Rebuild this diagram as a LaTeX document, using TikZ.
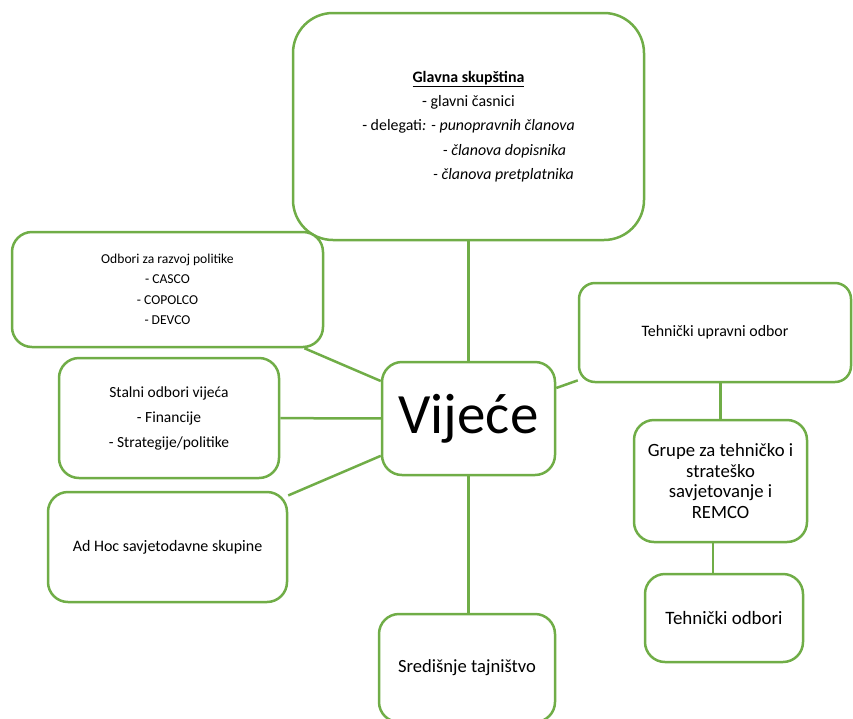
\documentclass[tikz,border=0pt]{standalone}
\usepackage{fontspec}
\setmainfont{Carlito}
\usepackage{tikz}
\usetikzlibrary{positioning}
\definecolor{zelena}{HTML}{70AD47}

\begin{document}
\begin{tikzpicture}[x=1pt,y=-1pt,
	box/.style={draw=zelena, line width=2.5pt, rounded corners=20pt, fill=white, align=center, inner sep=0pt},
	veza/.style={draw=zelena, line width=2.5pt}]
	\useasboundingbox (0,0) rectangle (853,718);
	% tijela
	\node[box, minimum width=351pt, minimum height=227pt, rounded corners=40pt, font=\fontsize{15.9}{24.2}\selectfont] (skupstina) at (468.5,126.5) {\textbf{\underline{Glavna skupština}}\\ - glavni časnici\\ - delegati\textit{: - punopravnih članova}\\ \hspace*{72pt}\textit{- članova dopisnika}\\ \hspace*{70pt}\textit{- članova pretplatnika}};
	\node[box, minimum width=311pt, minimum height=115pt, font=\fontsize{13.6}{20.5}\selectfont] (razvoj) at (167.5,289.5) {Odbori za razvoj politike\\ - CASCO\\ - COPOLCO\\ - DEVCO};
	\node[box, minimum width=220pt, minimum height=120pt, font=\fontsize{15.5}{25}\selectfont] (stalni) at (169,418) {Stalni odbori vijeća\\ - Financije\\ - Strategije/politike};
	\node[box, minimum width=239pt, minimum height=110pt, font=\fontsize{16}{19}\selectfont] (adhoc) at (167.5,547) {Ad Hoc savjetodavne skupine};
	\node[box, minimum width=173pt, minimum height=113pt, font=\fontsize{57}{64}\selectfont] (vijece) at (468.5,418.5) {Vijeće};
	\node[box, minimum width=272pt, minimum height=99pt, rounded corners=16pt, font=\fontsize{15.9}{19}\selectfont] (upravni) at (715,332.5) {Tehnički upravni odbor};
	\node[box, minimum width=173pt, minimum height=122pt, font=\fontsize{18.7}{20.5}\selectfont] (grupe) at (720.5,481) {Grupe za tehničko i\\ strateško\\ savjetovanje i\\ REMCO};
	\node[box, minimum width=158pt, minimum height=88pt, font=\fontsize{18.9}{22}\selectfont] (tehodbori) at (724,618) {Tehnički odbori};
	\node[box, minimum width=176pt, minimum height=108pt, font=\fontsize{18.6}{22}\selectfont] (sredisnje) at (467,668) {Središnje tajništvo};
	% veze
	\draw[veza] (skupstina) -- (vijece);
	\draw[veza] (razvoj) -- (vijece);
	\draw[veza] (stalni) -- (vijece);
	\draw[veza] (adhoc) -- (vijece);
	\draw[veza] (upravni) -- (vijece);
	\draw[veza] (vijece.south) -- (vijece.south |- sredisnje.north);
	\draw[veza] (grupe.north) -- (grupe.north |- upravni.south);
	\draw[veza] ([xshift=-11pt]tehodbori.north) -- ([xshift=-11pt]tehodbori.north |- grupe.south);
\end{tikzpicture}
\end{document}
